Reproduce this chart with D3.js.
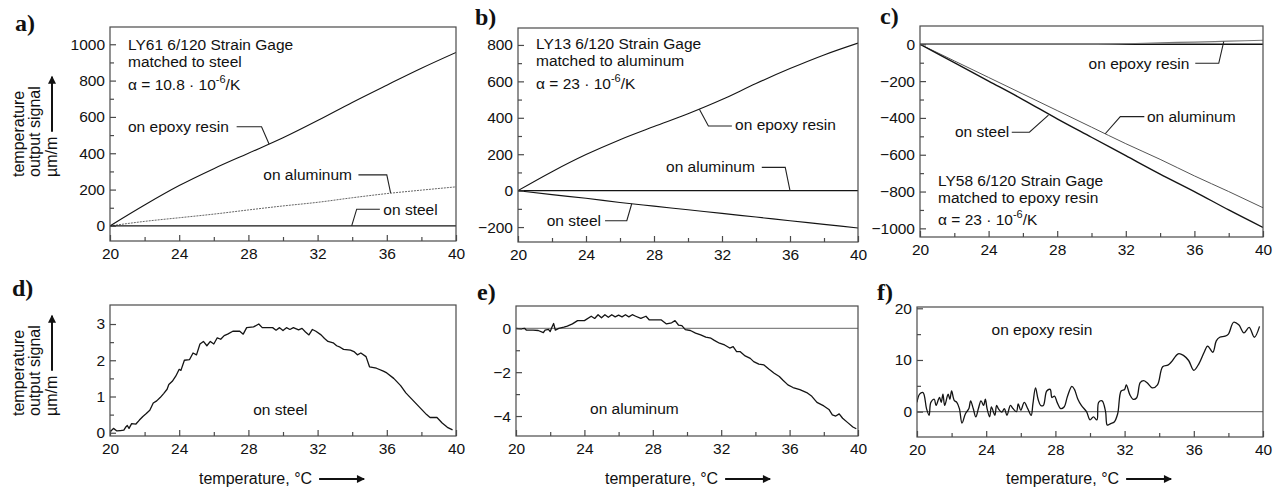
<!DOCTYPE html>
<html>
<head>
<meta charset="utf-8">
<script src="https://cdn.jsdelivr.net/npm/d3@7"></script>
<style>
  body { margin: 0; background: #fff; }
  svg text { font-family: "Liberation Sans", Arial, Helvetica, sans-serif; fill: #111; }
  .letter { font-family: "Liberation Serif", "Times New Roman", serif; font-weight: bold; font-size: 24px; }
  .tick text { font-size: 15px; }
  .note { font-size: 15.5px; }
</style>
</head>
<body>
<svg id="chart" width="1278" height="490"></svg>
<script>
// ---- DATA ----
// top row: 2 degC steps
const tempCoarse = [20, 22, 24, 26, 28, 30, 32, 34, 36, 38, 40];
const aEpoxy    = [0, 115, 222, 315, 400, 485, 580, 680, 775, 868, 955];
const aAluminum = [0, 25, 45, 65, 88, 110, 130, 155, 178, 197, 215];
const aSteel    = [0, 0, 0, 0, 0, 0, 0, 0, 0, 0, 0];
const bEpoxy    = [0, 104, 198, 280, 352, 422, 500, 588, 670, 745, 810];
const bAluminum = [0, 0, 0, 0, 0, 0, 0, 0, 0, 0, 0];
const bSteel    = [0, -22, -42, -65, -85, -105, -125, -145, -165, -185, -205];
const cEpoxy    = [0, 0, 0, 0, 0, 0, 3, 8, 12, 17, 22];
const cAluminum = [0, -90, -180, -270, -360, -450, -540, -625, -715, -800, -888];
const cSteel    = [0, -100, -200, -300, -405, -505, -605, -705, -800, -900, -995];
const zeroTemp  = [20, 40];
const zeroLine  = [0, 0];

// d) on steel
const dTemp = [20.0, 20.2, 20.4, 20.6, 20.8, 20.9, 21.0, 21.1, 21.25, 21.5, 21.7, 21.9, 22.1, 22.3, 22.5, 22.7, 22.9,
  23.1, 23.3, 23.4, 23.6, 23.8, 24.0, 24.1, 24.3, 24.6, 24.8, 25.0, 25.2, 25.4, 25.6, 25.8, 26.0, 26.2, 26.4, 26.6,
  26.8, 27.1, 27.5, 27.7, 27.9, 28.3, 28.6, 28.8, 29.1, 29.4, 29.6, 29.8, 30.0, 30.2, 30.4, 30.6, 30.9, 31.1, 31.3,
  31.5, 31.7, 31.9, 32.2, 32.4, 32.6, 32.9, 33.1, 33.3, 33.5, 33.9, 34.1, 34.3, 34.5, 34.8, 35.0, 35.4, 35.8, 36.0,
  36.4, 36.8, 37.1, 37.5, 37.9, 38.3, 38.5, 38.9, 39.2, 39.5, 39.8];
const dSteel = [0.02, 0.12, 0.05, 0.06, 0.07, 0.15, 0.2, 0.12, 0.25, 0.24, 0.35, 0.45, 0.53, 0.62, 0.82, 0.88, 0.97,
  1.08, 1.2, 1.33, 1.42, 1.56, 1.75, 1.72, 2.0, 2.02, 2.2, 2.15, 2.45, 2.52, 2.4, 2.52, 2.45, 2.62, 2.58, 2.68,
  2.72, 2.8, 2.8, 2.72, 2.9, 2.92, 3.0, 2.9, 2.9, 2.9, 2.83, 2.9, 2.82, 2.9, 2.85, 2.9, 2.84, 2.88, 2.78,
  2.7, 2.85, 2.8, 2.7, 2.6, 2.52, 2.48, 2.4, 2.36, 2.3, 2.28, 2.24, 2.15, 2.2, 2.1, 1.82, 1.78, 1.7, 1.65,
  1.5, 1.3, 1.1, 0.9, 0.7, 0.5, 0.42, 0.42, 0.27, 0.15, 0.08];

// e) on aluminum
const eTemp = [20.0, 20.3, 20.5, 20.6, 21.0, 21.3, 21.6, 21.7, 21.9, 22.0, 22.1, 22.2, 22.3, 22.5, 22.8, 23.0, 23.3,
  23.6, 24.0, 24.4, 24.6, 24.8, 25.0, 25.2, 25.4, 25.6, 25.8, 26.0, 26.2, 26.4, 26.6, 26.8, 27.0, 27.3, 27.6, 27.8,
  28.2, 28.5, 28.8, 29.1, 29.3, 29.5, 29.7, 29.9, 30.2, 30.5, 30.8, 31.1, 31.4, 31.6, 31.9, 32.2, 32.5, 32.7, 32.9,
  33.1, 33.4, 33.7, 33.9, 34.2, 34.5, 34.8, 35.1, 35.4, 35.6, 35.9, 36.2, 36.6, 37.0, 37.3, 37.6, 38.0, 38.3, 38.5,
  38.7, 38.9, 39.1, 39.4, 39.7, 39.9];
const eAluminum = [0.0, -0.03, 0.0, -0.08, -0.08, -0.1, -0.2, -0.08, -0.05, -0.15, 0.05, 0.22, -0.08, 0.0, 0.05, 0.1, 0.2,
  0.35, 0.35, 0.55, 0.45, 0.62, 0.48, 0.62, 0.5, 0.62, 0.52, 0.6, 0.52, 0.62, 0.52, 0.62, 0.55, 0.45, 0.55, 0.38,
  0.38, 0.38, 0.2, 0.25, 0.35, 0.15, 0.12, -0.06, -0.1, -0.22, -0.3, -0.4, -0.45, -0.55, -0.68, -0.76, -0.9, -0.84, -1.06,
  -1.06, -1.26, -1.37, -1.52, -1.63, -1.67, -1.87, -2.05, -2.2, -2.36, -2.58, -2.7, -2.8, -2.93, -3.1, -3.38, -3.54, -3.7, -3.95,
  -4.0, -3.9, -4.1, -4.3, -4.5, -4.58];

// f) on epoxy resin
const fTemp = [20.0, 20.15, 20.35, 20.55, 20.7, 20.8, 21.0, 21.1, 21.3, 21.4, 21.5, 21.6, 21.8, 21.9, 22.0, 22.15, 22.3,
  22.45, 22.6, 22.8, 23.0, 23.1, 23.25, 23.4, 23.55, 23.7, 23.85, 23.95, 24.05, 24.2, 24.3, 24.5, 24.6, 24.7, 24.9, 25.05,
  25.2, 25.4, 25.55, 25.75, 25.85, 26.0, 26.2, 26.4, 26.6, 26.7, 26.85, 27.0, 27.15, 27.3, 27.5, 27.7, 27.8, 27.95, 28.1,
  28.3, 28.5, 28.7, 28.95, 29.1, 29.3, 29.5, 29.8, 30.0, 30.2, 30.4, 30.5, 30.7, 30.9, 31.0, 31.2, 31.4, 31.6, 31.8,
  32.0, 32.1, 32.3, 32.5, 32.7, 32.9, 33.1, 33.3, 33.6, 33.9, 34.2, 34.5, 34.7, 35.1, 35.4, 35.7, 36.0, 36.3, 36.6,
  36.8, 37.1, 37.3, 37.5, 37.8, 38.0, 38.3, 38.6, 38.9, 39.2, 39.5, 39.8];
const fEpoxy = [1.8, 3.4, 3.7, 0.6, -0.7, 1.8, 2.4, 1.2, 2.75, 1.8, 3.4, 1.2, 3.4, 2.4, 4.0, 2.2, 1.8,
  0.6, -2.2, -0.4, 0.6, 2.1, 0.6, -1.0, 0.6, 2.1, 1.2, 2.4, 0.6, -1.0, 0.9, -0.7, 1.2, 0.6, -0.1, 0.6,
  -0.7, 1.2, 0.6, 0.0, 1.5, 0.3, 1.8, 0.6, -0.7, 1.5, 4.6, 2.4, 1.2, 1.2, 4.0, 4.3, 2.75, 3.0, 1.8,
  0.6, 0.9, 3.0, 4.9, 4.3, 2.4, 1.2, 0.0, -1.6, -1.0, -1.6, 1.8, 2.1, 0.0, -2.6, -2.3, -2.0, -0.4, 4.0,
  4.3, 5.2, 3.3, 2.4, 2.7, 5.6, 6.0, 5.6, 4.6, 5.2, 8.7, 9.0, 9.6, 11.2, 10.9, 9.9, 8.0, 9.3, 11.5,
  12.7, 11.5, 13.7, 14.4, 14.6, 15.0, 17.3, 16.8, 15.25, 16.3, 14.4, 16.5];

const xMajor = [20, 24, 28, 32, 36, 40];
const xMinor = [22, 26, 30, 34, 38];

// ---- LAYOUT ----
const svg = d3.select("#chart");
svg.append("rect").attr("width", 1278).attr("height", 490).attr("fill", "#fff");

const defs = svg.append("defs");
defs.append("marker")
  .attr("id", "arrowHead")
  .attr("viewBox", "0 0 10 10")
  .attr("refX", 9).attr("refY", 5)
  .attr("markerUnits", "userSpaceOnUse")
  .attr("markerWidth", 14).attr("markerHeight", 8)
  .attr("orient", "auto")
  .append("path").attr("d", "M0,0L10,5L0,10z").attr("fill", "#111");

const black = "#141414";
const grey = "#777";

const panels = [
  { letter: "a)", letterPos: [15, 31], box: [110, 27, 456, 241], yDomain: [-83, 1095],
    yMajor: d3.range(0, 1001, 200), yMinor: d3.range(100, 1000, 200),
    series: [
      { t: tempCoarse, v: aAluminum, stroke: "#666", width: 1, dash: "2,1" },
      { t: tempCoarse, v: aSteel, stroke: black, width: 1.4 },
      { t: tempCoarse, v: aEpoxy, stroke: black, width: 1.1 }
    ],
    info: { dx: 18, ys: [23, 39.7, 63], lines: ["LY61 6/120 Strain Gage", "matched to steel"], alpha: "10.8" },
    notes: [
      { text: "on epoxy resin", at: [21.04, 519], leader: [[27.32, 546], [28.76, 546], [29.2, 450]] },
      { text: "on aluminum", at: [28.86, 253], leader: [[34.36, 281], [36.0, 281], [36.22, 182]] },
      { text: "on steel", at: [35.8, 60.5], leader: [[35.6, 92], [34.26, 92], [33.97, 0]] }
    ] },
  { letter: "b)", letterPos: [475, 25], box: [518, 28, 858, 242], yDomain: [-282, 893],
    yMajor: d3.range(-200, 801, 200), yMinor: d3.range(-100, 900, 200),
    series: [
      { t: tempCoarse, v: bAluminum, stroke: black, width: 1.4 },
      { t: tempCoarse, v: bSteel, stroke: black, width: 1.1 },
      { t: tempCoarse, v: bEpoxy, stroke: black, width: 1.1 }
    ],
    info: { dx: 18, ys: [21.3, 38, 61.3], lines: ["LY13 6/120 Strain Gage", "matched to aluminum"], alpha: "23" },
    notes: [
      { text: "on epoxy resin", at: [32.77, 333], leader: [[32.58, 355], [31.2, 355], [30.67, 447]] },
      { text: "on aluminum", at: [28.71, 104], leader: [[34.34, 128], [35.72, 128], [36.0, 0]] },
      { text: "on steel", at: [21.69, -194], leader: [[25.12, -165], [26.4, -165], [26.69, -72]] }
    ] },
  { letter: "c)", letterPos: [880, 24], box: [920, 26, 1263, 237], yDomain: [-1047, 99.5],
    yMajor: d3.range(-1000, 1, 200), yMinor: d3.range(-900, 100, 200),
    series: [
      { t: zeroTemp, v: zeroLine, stroke: black, width: 1.4 },
      { t: tempCoarse, v: cEpoxy, stroke: grey, width: 1.2 },
      { t: tempCoarse, v: cAluminum, stroke: "#555", width: 1 },
      { t: tempCoarse, v: cSteel, stroke: black, width: 1.4 }
    ],
    info: { dx: 18, ys: [160, 177, 199], lines: ["LY58 6/120 Strain Gage", "matched to epoxy resin"], alpha: "23" },
    notes: [
      { text: "on epoxy resin", at: [29.83, -134], leader: [[36.05, -103], [37.42, -103], [37.71, 14]] },
      { text: "on aluminum", at: [33.23, -421], leader: [[33.08, -393], [31.68, -393], [30.8, -486]] },
      { text: "on steel", at: [22.04, -502], leader: [[25.35, -478], [26.38, -478], [27.49, -385]] }
    ] },
  { letter: "d)", letterPos: [12, 296], box: [110, 305, 456, 436], yDomain: [-0.09, 3.525],
    yMajor: [0, 1, 2, 3], yMinor: [0.5, 1.5, 2.5],
    series: [ { t: dTemp, v: dSteel, stroke: black, width: 1.3, raw: true } ],
    notes: [ { text: "on steel", at: [28.28, 0.49] } ], xTitle: true },
  { letter: "e)", letterPos: [477, 300], box: [516, 306, 858, 436], yDomain: [-4.91, 1.017],
    yMajor: [-4, -2, 0], yMinor: [-3, -1],
    series: [
      { t: zeroTemp, v: zeroLine, stroke: "#666", width: 1 },
      { t: eTemp, v: eAluminum, stroke: black, width: 1.3, raw: true }
    ],
    notes: [ { text: "on aluminum", at: [24.33, -3.91] } ], xTitle: true },
  { letter: "f)", letterPos: [877, 300], box: [917, 307, 1263, 437], yDomain: [-4.9, 20.25],
    yMajor: [0, 10, 20], yMinor: [5, 15],
    series: [
      { t: zeroTemp, v: zeroLine, stroke: grey, width: 1.2 },
      { t: fTemp, v: fEpoxy, stroke: black, width: 1.3, smooth: true }
    ],
    notes: [ { text: "on epoxy resin", at: [24.31, 14.75] } ], xTitle: true }
];

panels.forEach(p => {
  const [x0, y0, x1, y1] = p.box;
  const x = d3.scaleLinear().domain([20, 40]).range([x0, x1]);
  const y = d3.scaleLinear().domain(p.yDomain).range([y1, y0]);
  const g = svg.append("g");

  // panel letter
  svg.append("text").attr("class", "letter")
    .attr("x", p.letterPos[0]).attr("y", p.letterPos[1]).text(p.letter);

  // data lines (clipped to frame)
  const clipId = "clip" + p.letter[0];
  defs.append("clipPath").attr("id", clipId)
    .append("rect").attr("x", x0).attr("y", y0).attr("width", x1 - x0).attr("height", y1 - y0);

  p.series.forEach(s => {
    const pts = s.t.map((t, i) => [t, s.v[i]]);
    const curve = s.smooth ? d3.curveCatmullRom.alpha(0.5)
      : (s.raw ? d3.curveLinear : d3.curveMonotoneX);
    const line = d3.line().x(d => x(d[0])).y(d => y(d[1])).curve(curve);
    g.append("path").datum(pts)
      .attr("clip-path", `url(#${clipId})`)
      .attr("fill", "none")
      .attr("stroke", s.stroke)
      .attr("stroke-width", s.width)
      .attr("stroke-dasharray", s.dash || null)
      .attr("stroke-linejoin", "round")
      .attr("d", line);
  });

  // frame
  g.append("rect").attr("x", x0).attr("y", y0).attr("width", x1 - x0).attr("height", y1 - y0)
    .attr("fill", "none").attr("stroke", "#4a4a4a").attr("stroke-width", 1.2);

  // axes, ticks pointing inward
  const styleAxis = sel => {
    sel.select(".domain").remove();
    sel.selectAll(".tick line").attr("stroke", "#4a4a4a").attr("stroke-width", 1.2);
    sel.selectAll(".tick text").attr("fill", "#111");
  };
  g.append("g").attr("transform", `translate(0,${y1})`)
    .call(d3.axisBottom(x).tickValues(xMajor).tickSize(-6).tickPadding(7).tickFormat(d3.format("d")))
    .call(styleAxis);
  g.append("g").attr("transform", `translate(0,${y1})`)
    .call(d3.axisBottom(x).tickValues(xMinor).tickSize(-4).tickFormat(""))
    .call(styleAxis);
  g.append("g").attr("transform", `translate(${x0},0)`)
    .call(d3.axisLeft(y).tickValues(p.yMajor).tickSize(-6).tickPadding(5).tickFormat(d3.format("d")))
    .call(styleAxis);
  g.append("g").attr("transform", `translate(${x0},0)`)
    .call(d3.axisLeft(y).tickValues(p.yMinor).tickSize(-4).tickFormat(""))
    .call(styleAxis);
  g.selectAll(".tick text").style("font-family", "'Liberation Sans', Arial, sans-serif").style("font-size", "15.5px");

  // gage info block
  if (p.info) {
    p.info.lines.forEach((l, i) => {
      g.append("text").attr("class", "note")
        .attr("x", x0 + p.info.dx).attr("y", y0 + p.info.ys[i]).text(l);
    });
    const a = g.append("text").attr("class", "note")
      .attr("x", x0 + p.info.dx).attr("y", y0 + p.info.ys[2]);
    a.append("tspan").text(`\u03b1 = ${p.info.alpha} \u00b7 10`);
    a.append("tspan").attr("dy", -7).style("font-size", "11px").text("-6");
    a.append("tspan").attr("dy", 7).text("/K");
  }

  // curve labels with leader lines
  p.notes.forEach(n => {
    g.append("text").attr("class", "note")
      .attr("x", x(n.at[0])).attr("y", y(n.at[1])).text(n.text);
    if (n.leader) {
      g.append("path")
        .attr("d", d3.line().x(d => x(d[0])).y(d => y(d[1]))(n.leader))
        .attr("fill", "none").attr("stroke", "#222").attr("stroke-width", 1.1);
    }
  });

  // x-axis title
  if (p.xTitle) {
    const tt = svg.append("text").attr("x", x0 + 89).attr("y", 484)
      .style("font-size", "16px").text("temperature, \u00b0C");
    const end = x0 + 89 + tt.node().getComputedTextLength();
    svg.append("line").attr("x1", end + 7).attr("x2", end + 52)
      .attr("y1", 479).attr("y2", 479)
      .attr("stroke", "#111").attr("stroke-width", 2)
      .attr("marker-end", "url(#arrowHead)");
  }
});

// y-axis titles (rotated, read bottom to top)
function yTitle(bottom) {
  const t = svg.append("g").attr("transform", `translate(0,${bottom}) rotate(-90)`);
  t.append("text").attr("x", 0).attr("y", 24).style("font-size", "16px").text("temperature");
  t.append("text").attr("x", 0).attr("y", 40).style("font-size", "16px").text("output signal");
  const u = t.append("text").attr("x", 0).attr("y", 57).style("font-size", "16px").text("\u00b5m/m");
  const w = u.node().getComputedTextLength();
  t.append("line").attr("x1", w + 5).attr("x2", w + 60).attr("y1", 52).attr("y2", 52)
    .attr("stroke", "#111").attr("stroke-width", 2)
    .attr("marker-end", "url(#arrowHead)");
}
yTitle(177);
yTitle(416);
</script>
</body>
</html>
